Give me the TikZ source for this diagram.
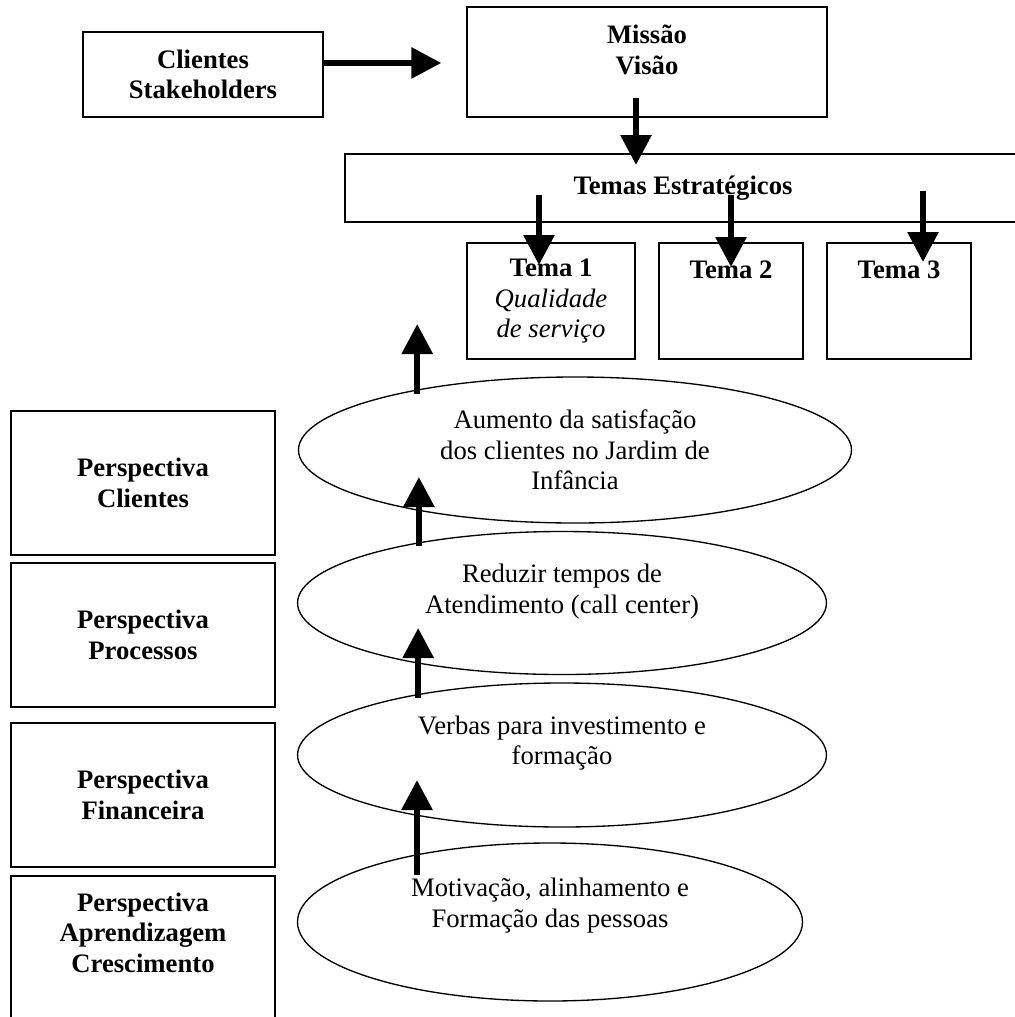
\documentclass[tikz,border=0pt]{standalone}
\usepackage{fontspec}
\setmainfont{Liberation Serif}
\usetikzlibrary{shapes.geometric, arrows.meta, positioning}

\begin{document}
\begin{tikzpicture}[
  x=0.45pt, y=-0.45pt,
  font=\fontsize{12}{13.8}\selectfont,
  boldtxt/.style={font=\fontsize{12}{13.8}\selectfont\bfseries},
  box/.style={rectangle, draw=black, line width=0.6pt, fill=white, align=center, inner sep=0pt},
  persp/.style={box, boldtxt, minimum width=118.8pt, minimum height=64.8pt},
  tema/.style={box, minimum height=52.2pt},
  oval/.style={ellipse, draw=black, line width=0.6pt, align=center, inner sep=0pt},
  txt/.style={align=center, inner sep=0pt},
  arr/.style={-{Triangle[length=13.5pt, width=13.5pt]}, line width=2.7pt}]
\useasboundingbox (0,0) rectangle (1015,1017);
% top row
\node[box, boldtxt, minimum width=108pt, minimum height=38.25pt] (clientes) at (203,74.5) {Clientes\\Stakeholders};
\node[box, minimum width=162pt, minimum height=49.5pt] (missao) at (647,62) {};
\node[txt, boldtxt, below=8.3pt of missao.north] (missaotxt) {Missão\\Visão};
\node[box, boldtxt, minimum width=304.2pt, minimum height=30.6pt] (temas) at (683,188) {Temas Estratégicos};
% themes
\node[tema, minimum width=75.6pt] (tema1) at (551,301) {\textbf{Tema 1}\\\textit{Qualidade}\\\textit{de serviço}};
\node[tema, minimum width=64.8pt] (tema2) at (731,301) {};
\node[txt, boldtxt, below=8.1pt of tema2.north] (tema2txt) {Tema 2};
\node[tema, minimum width=64.8pt] (tema3) at (899,301) {};
\node[txt, boldtxt, below=8.1pt of tema3.north] (tema3txt) {Tema 3};
% perspectives
\node[persp] (pclientes) at (143,483) {Perspectiva\\Clientes};
\node[persp] (pprocessos) at (143,635) {Perspectiva\\Processos};
\node[persp] (pfinanceira) at (143,795) {Perspectiva\\Financeira};
\node[persp, minimum height=69.3pt] (paprend) at (143,953) {};
\node[txt, boldtxt, below=7.6pt of paprend.north] (paprendtxt) {Perspectiva\\Aprendizagem\\Crescimento};
% objectives
\node[oval, minimum width=248.85pt, minimum height=65.7pt] (satisf) at (575,450) {Aumento da satisfação\\dos clientes no Jardim de\\Infância};
\node[oval, minimum width=238pt, minimum height=64.35pt] (tempos) at (562,603) {};
\node[txt] (ampostxt) at ([yshift=5.2pt]tempos.center) {Reduzir tempos de\\Atendimento (call center)};
\node[oval, minimum width=238pt, minimum height=64.8pt] (verbas) at (562,755) {};
\node[txt] (verbastxt) at ([yshift=5.4pt]verbas.center) {Verbas para investimento e\\formação};
\node[oval, minimum width=227.25pt, minimum height=71.1pt] (motiv) at (550,922) {};
\node[txt] (motivtxt) at ([yshift=7.3pt]motiv.center) {Motivação, alinhamento e\\Formação das pessoas};
% arrows
\draw[arr, shorten >=11.25pt] ([yshift=5.2pt]clientes.east) -- ([yshift=5.2pt]clientes.east -| missao.west);
\draw[arr, shorten >=10.35pt] ([xshift=-4.95pt, yshift=9pt]missao.south) -- ([xshift=-4.95pt]missao.south |- temas.center);
\draw[arr, shorten >=16.2pt] ([xshift=-5.4pt, yshift=-3.15pt]tema1.center |- temas.center) -- ([xshift=-5.4pt]tema1.center);
\draw[arr, shorten >=15.3pt] ([yshift=-3.15pt]tema2.center |- temas.center) -- (tema2.center);
\draw[arr, shorten >=17.55pt] ([xshift=10.8pt, yshift=-1.35pt]tema3.center |- temas.center) -- ([xshift=10.8pt]tema3.center);
\draw[arr, shorten >=10.35pt] ([yshift=-2.25pt]satisf.159) -- (satisf.159 |- tema1.center);
\draw[arr, shorten >=12.15pt] ([yshift=-1.8pt]tempos.157) -- (tempos.157 |- satisf.center);
\draw[arr, shorten >=11.25pt] ([yshift=-1.6pt]verbas.157) -- (verbas.157 |- tempos.center);
\draw[arr, shorten >=11.25pt] ([yshift=-9.3pt]motiv.153) -- (motiv.153 |- verbas.center);
\end{tikzpicture}
\end{document}
